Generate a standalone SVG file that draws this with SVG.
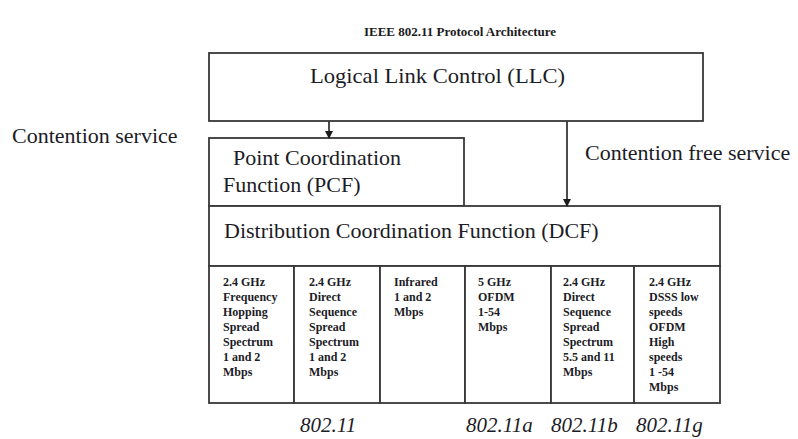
<svg xmlns="http://www.w3.org/2000/svg" width="798" height="439" viewBox="0 0 798 439">
  <defs>
    <style>
      .box { fill: #ffffff; stroke: #383838; stroke-width: 1.8; }
      .lbl { font-family: "Liberation Serif", "Times New Roman", serif; font-size: 22px; fill: #1c1c26; }
      .title { font-family: "Liberation Serif", "Times New Roman", serif; font-size: 13px; font-weight: bold; fill: #1c1c1c; }
      .cell { font-family: "Liberation Serif", "Times New Roman", serif; font-size: 12px; font-weight: bold; fill: #1c1c26; }
      .std { font-family: "Liberation Serif", "Times New Roman", serif; font-size: 21px; font-style: italic; fill: #1c1c26; }
      .wire { stroke: #383838; stroke-width: 1.8; fill: none; }
    </style>
    <marker id="arrow" markerWidth="8" markerHeight="8" refX="7" refY="4" orient="auto" markerUnits="userSpaceOnUse">
      <path d="M0,0 L8,4 L0,8 Z" fill="#1c1c1c"/>
    </marker>
  </defs>

  <rect width="798" height="439" fill="#ffffff"/>

  <text class="title" x="460" y="36" text-anchor="middle">IEEE 802.11 Protocol Architecture</text>

  <!-- side labels for the two service paths -->
  <text class="lbl" x="12" y="143">Contention service</text>
  <text class="lbl" x="585" y="160">Contention free service</text>

  <g id="llc">
    <rect class="box" x="209" y="53" width="494" height="68"/>
    <text class="lbl" x="310" y="83" textLength="255" lengthAdjust="spacingAndGlyphs">Logical Link Control (LLC)</text>
  </g>

  <g id="pcf">
    <rect class="box" x="209" y="138" width="255" height="68"/>
    <text class="lbl" x="233" y="165">Point Coordination</text>
    <text class="lbl" x="223" y="192">Function (PCF)</text>
  </g>

  <g id="dcf">
    <rect class="box" x="209" y="206" width="511" height="60"/>
    <text class="lbl" x="224" y="238">Distribution Coordination Function (DCF)</text>
  </g>

  <!-- physical layer columns -->
  <g id="phy-fhss">
    <rect class="box" x="209" y="266" width="85" height="137"/>
    <text class="cell" x="223" y="286">
      <tspan x="223">2.4 GHz</tspan>
      <tspan x="223" dy="15">Frequency</tspan>
      <tspan x="223" dy="15">Hopping</tspan>
      <tspan x="223" dy="15">Spread</tspan>
      <tspan x="223" dy="15">Spectrum</tspan>
      <tspan x="223" dy="15">1 and 2</tspan>
      <tspan x="223" dy="15">Mbps</tspan>
    </text>
  </g>

  <g id="phy-dsss">
    <rect class="box" x="294" y="266" width="86" height="137"/>
    <text class="cell" x="309" y="286">
      <tspan x="309">2.4 GHz</tspan>
      <tspan x="309" dy="15">Direct</tspan>
      <tspan x="309" dy="15">Sequence</tspan>
      <tspan x="309" dy="15">Spread</tspan>
      <tspan x="309" dy="15">Spectrum</tspan>
      <tspan x="309" dy="15">1 and 2</tspan>
      <tspan x="309" dy="15">Mbps</tspan>
    </text>
  </g>

  <g id="phy-ir">
    <rect class="box" x="380" y="266" width="85" height="137"/>
    <text class="cell" x="394" y="286">
      <tspan x="394">Infrared</tspan>
      <tspan x="394" dy="15">1 and 2</tspan>
      <tspan x="394" dy="15">Mbps</tspan>
    </text>
  </g>

  <g id="phy-11a">
    <rect class="box" x="465" y="266" width="86" height="137"/>
    <text class="cell" x="478" y="286">
      <tspan x="478">5 GHz</tspan>
      <tspan x="478" dy="15">OFDM</tspan>
      <tspan x="478" dy="15">1-54</tspan>
      <tspan x="478" dy="15">Mbps</tspan>
    </text>
  </g>

  <g id="phy-11b">
    <rect class="box" x="551" y="266" width="83" height="137"/>
    <text class="cell" x="563" y="286">
      <tspan x="563">2.4 GHz</tspan>
      <tspan x="563" dy="15">Direct</tspan>
      <tspan x="563" dy="15">Sequence</tspan>
      <tspan x="563" dy="15">Spread</tspan>
      <tspan x="563" dy="15">Spectrum</tspan>
      <tspan x="563" dy="15">5.5 and 11</tspan>
      <tspan x="563" dy="15">Mbps</tspan>
    </text>
  </g>

  <g id="phy-11g">
    <rect class="box" x="634" y="266" width="86" height="137"/>
    <text class="cell" x="649" y="286">
      <tspan x="649">2.4 GHz</tspan>
      <tspan x="649" dy="15">DSSS low</tspan>
      <tspan x="649" dy="15">speeds</tspan>
      <tspan x="649" dy="15">OFDM</tspan>
      <tspan x="649" dy="15">High</tspan>
      <tspan x="649" dy="15">speeds</tspan>
      <tspan x="649" dy="15">1 -54</tspan>
      <tspan x="649" dy="15">Mbps</tspan>
    </text>
  </g>

  <!-- standard names under the columns -->
  <g id="standards">
    <text class="std" x="300" y="432">802.11</text>
    <text class="std" x="466" y="432">802.11a</text>
    <text class="std" x="551" y="432">802.11b</text>
    <text class="std" x="636" y="432">802.11g</text>
  </g>

  <g id="connectors">
    <line class="wire" x1="329" y1="121" x2="329" y2="138" marker-end="url(#arrow)"/>
    <line class="wire" x1="567" y1="121" x2="567" y2="206" marker-end="url(#arrow)"/>
  </g>
</svg>
